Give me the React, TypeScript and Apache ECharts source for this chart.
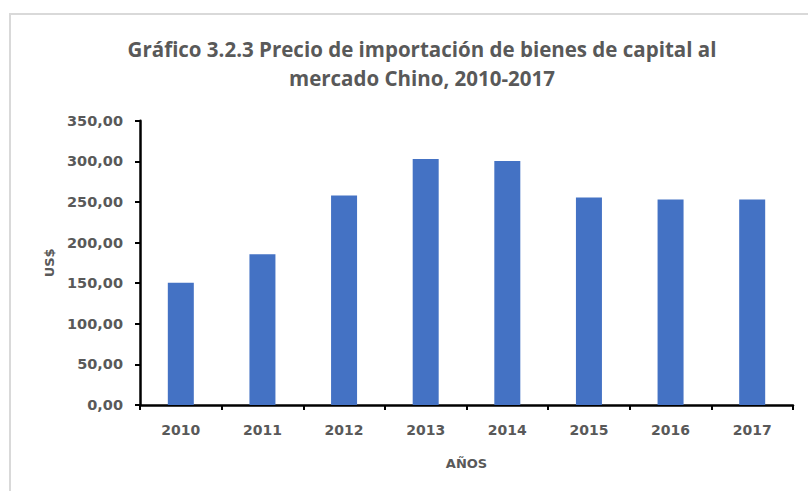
import React, { useEffect, useRef } from "react";
import * as echarts from "echarts";

const categories = ["2010", "2011", "2012", "2013", "2014", "2015", "2016", "2017"];
const values = [150.5, 185.5, 258, 303, 300.5, 255.5, 253, 253];
const titleLines = ["Gráfico 3.2.3 Precio de importación de bienes de capital al", "mercado Chino, 2010-2017"];
const yAxisName = "US$";
const xAxisName = "AÑOS";

export default function App() {
  const ref = useRef<HTMLDivElement>(null);
  useEffect(() => {
    document.body.style.margin = "0";
    const chart = echarts.init(ref.current!, null, { renderer: "svg" });
    chart.setOption({
      animation: false,
      backgroundColor: "#ffffff",
      title: {
        text: titleLines.join("\n"),
        left: 417,
        textAlign: "center",
        top: 29,
        textStyle: {
          fontFamily: "Open Sans",
          fontWeight: "bold",
          fontSize: 20.5,
          color: "#595959",
          lineHeight: 29,
        },
      },
      graphic: [
        {
          type: "rect",
          shape: { x: 10, y: 14, width: 900, height: 600 },
          style: { fill: "none", stroke: "#d9d9d9", lineWidth: 2 },
          silent: true,
          z: -10,
        },
      ],
      grid: { left: 140, right: 15, top: 120.7, bottom: 86 },
      xAxis: {
        type: "category",
        data: categories,
        name: xAxisName,
        nameLocation: "middle",
        nameGap: 52,
        nameTextStyle: { fontFamily: "DejaVu Sans", fontWeight: "bold", fontSize: 13, color: "#595959" },
        axisLine: { lineStyle: { color: "#000000", width: 2.5 } },
        axisTick: { show: true, alignWithLabel: false, length: 5, lineStyle: { color: "#000000", width: 2 } },
        axisLabel: { margin: 18, fontFamily: "DejaVu Sans", fontWeight: "bold", fontSize: 14, color: "#595959" },
        splitLine: { show: false },
      },
      yAxis: {
        type: "value",
        min: 0,
        max: 350,
        interval: 50,
        name: yAxisName,
        nameLocation: "middle",
        nameGap: 84,
        nameRotate: 90,
        nameTextStyle: { fontFamily: "DejaVu Sans", fontWeight: "bold", fontSize: 13, color: "#595959" },
        axisLine: { show: true, lineStyle: { color: "#000000", width: 2.5 } },
        axisTick: { show: true, length: 5, lineStyle: { color: "#000000", width: 2 } },
        axisLabel: {
          margin: 17,
          fontFamily: "DejaVu Sans",
          fontWeight: "bold",
          fontSize: 14.5,
          color: "#595959",
          formatter: (v: number) => v.toFixed(2).replace(".", ","),
        },
        splitLine: { show: false },
      },
      series: [
        {
          type: "bar",
          data: values,
          barWidth: 26,
          itemStyle: { color: "#4472C4" },
        },
      ],
    });
    return () => chart.dispose();
  }, []);
  return <div ref={ref} style={{ width: 808, height: 491, position: "absolute", left: 0, top: 0 }} />;
}
